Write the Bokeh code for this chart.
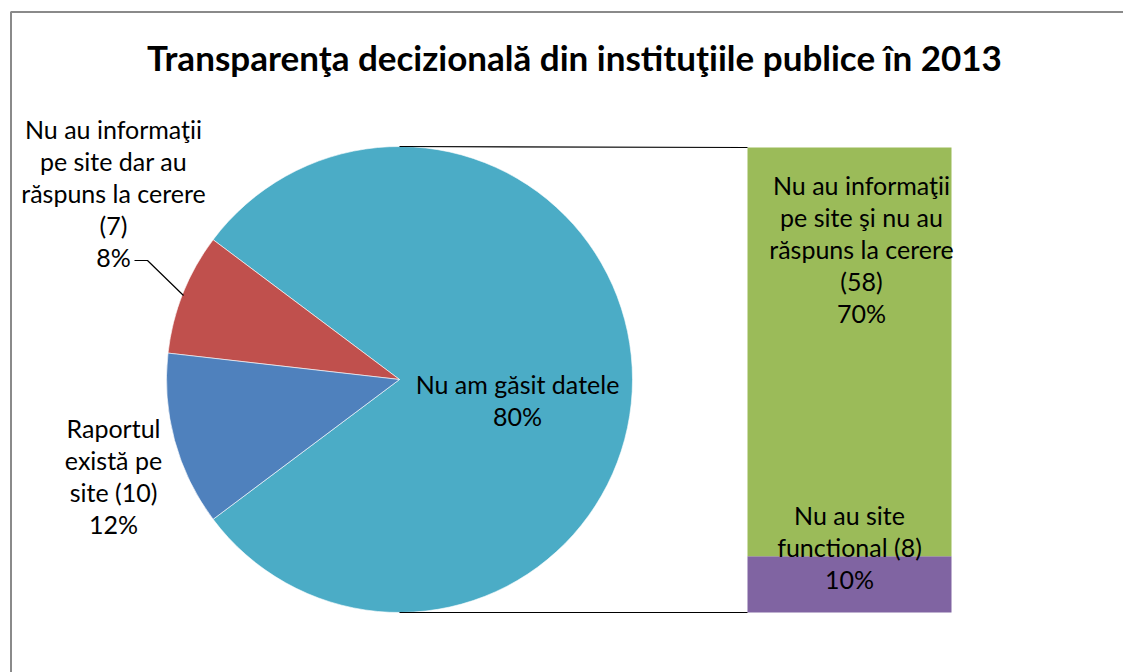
import math
from bokeh.plotting import figure
from bokeh.models import Range1d, ColumnDataSource
from bokeh.core.properties import value
from bokeh.embed import file_html
from bokeh.resources import INLINE

# ---- data ----
title = "Transparenţa decizională din instituţiile publice în 2013"
pie_labels = ["Nu am găsit datele", "Nu au informaţii\npe site dar au\nrăspuns la cerere\n(7)", "Raportul\nexistă pe\nsite (10)"]
pie_other_values = [7, 10]
bar_labels = ["Nu au informaţii\npe site şi nu au\nrăspuns la cerere\n(58)", "Nu au site\nfunctional (8)"]
bar_values = [58, 8]
pie_colors = ["#4BACC6", "#C0504D", "#4F81BD"]
bar_colors = ["#9BBB59", "#8064A2"]

W, H = 1123, 672
FONT = "Lato"
FS = "25px"

def Y(py):
    return H - py

total = sum(bar_values) + sum(pie_other_values)
pie_values = [sum(bar_values)] + pie_other_values

p = figure(width=W, height=H, x_range=Range1d(0, W), y_range=Range1d(0, H),
           output_backend="svg", toolbar_location=None, min_border=0)
p.axis.visible = False
p.grid.visible = False
p.outline_line_color = None
p.background_fill_color = "white"

# chart border
p.line([10.5, 10.5, W], [0, Y(11.5), Y(11.5)], line_color="#8a8a8a", line_width=2)

# pie
cx, cy, r = 399, Y(379), 233
angles = [v / total * 2 * math.pi for v in pie_values]
starts, ends = [], []
a = -angles[0] / 2
for ang in angles:
    starts.append(a)
    ends.append(a + ang)
    a += ang
src = ColumnDataSource(dict(x=[cx] * 3, y=[cy] * 3, s=starts, e=ends, c=pie_colors))
p.wedge(x="x", y="y", radius=r, start_angle="s", end_angle="e", fill_color="c",
        line_color="white", line_width=0.6, source=src)

# bar (stacked from bottom)
bx0, bx1 = 747, 951
btop, bbot = Y(147), Y(612)
bh = btop - bbot
bar_sum = sum(bar_values)
seg_bottom = bbot
for lbl, v, col in reversed(list(zip(bar_labels, bar_values, bar_colors))):
    hgt = v / bar_sum * bh
    p.quad(left=bx0, right=bx1, bottom=seg_bottom, top=seg_bottom + hgt, fill_color=col, line_color=None)
    seg_bottom += hgt

# connector lines
p.line([cx, bx0], [cy + r, btop], line_color="black", line_width=1.2)
p.line([cx, bx0], [cy - r, bbot], line_color="black", line_width=1.2)

# leader line for red slice
p.line([134, 147, 183], [Y(260), Y(260), Y(295)], line_color="black", line_width=1.2)

def pct(v):
    return f"{round(v / total * 100)}%"

def put_lines(lines, x, y0, step=32):
    xs = [x] * len(lines)
    ys = [Y(y0 + i * step) for i in range(len(lines))]
    p.text(x=xs, y=ys, text=lines, text_font=value(FONT), text_font_size=FS,
           text_align="center", text_baseline="middle", text_color="black")

# pie labels
put_lines(pie_labels[0].split("\n") + [pct(pie_values[0])], 517, 383)
put_lines(pie_labels[1].split("\n") + [pct(pie_values[1])], 113, 128)
put_lines(pie_labels[2].split("\n") + [pct(pie_values[2])], 113, 427)
# bar labels
put_lines(bar_labels[0].split("\n") + [pct(bar_values[0])], 861, 184)
put_lines(bar_labels[1].split("\n") + [pct(bar_values[1])], 849, 514)

# title
p.text(x=[574], y=[Y(56)], text=[title], text_font=value(FONT), text_font_size="35px",
       text_font_style="bold", text_align="center", text_baseline="middle", text_color="black")

open("out.html", "w").write(file_html(p, INLINE))
